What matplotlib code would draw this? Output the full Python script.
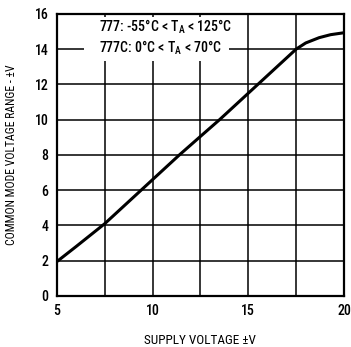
import matplotlib
matplotlib.use("Agg")
import matplotlib.pyplot as plt
from matplotlib.patches import Rectangle

supply_v = [5.0, 6.0, 7.5, 10.0, 11.4, 12.5, 13.5, 15.0, 15.5, 17.5, 18.0, 18.7, 19.3, 20.0]
cm_range = [1.95, 2.8, 4.1, 6.6, 8.0, 9.05, 10.0, 11.5, 12.0, 14.0, 14.35, 14.65, 14.82, 14.93]

x_ticks = [5, 10, 15, 20]
y_ticks = [0, 2, 4, 6, 8, 10, 12, 14, 16]
line1 = "777: -55°C < T$_\\mathregular{A}$ < 125°C"
line2 = "777C: 0°C < T$_\\mathregular{A}$ < 70°C"

plt.rcParams['font.family'] = ['Roboto Condensed', 'DejaVu Sans']
plt.rcParams['font.weight'] = 'medium'
plt.rcParams['mathtext.fontset'] = 'custom'
plt.rcParams['mathtext.rm'] = 'Roboto Condensed:medium'

fig = plt.figure(figsize=(3.51, 3.47), dpi=100)
ax = fig.add_axes([0.162, 0.147, 0.818, 0.813])

ax.set_xlim(5, 20)
ax.set_ylim(0, 16)
ax.set_xticks(x_ticks)
ax.set_xticks([7.5, 12.5, 17.5], minor=True)
ax.set_yticks(y_ticks)
ax.grid(True, which='both', color='black', linewidth=1.1)
ax.tick_params(which='both', length=0, labelsize=10, pad=6)
for s in ax.spines.values():
    s.set_linewidth(1.6)

# white patch behind the legend text hides the grid there
ax.add_patch(Rectangle((6.4, 13.3), 7.6, 2.55, facecolor='white',
                       edgecolor='none', zorder=2))
ax.text(7.2, 15.25, line1, ha='left', va='center', fontsize=10, zorder=3)
ax.text(7.2, 14.05, line2, ha='left', va='center', fontsize=10, zorder=3)

ax.plot(supply_v, cm_range, color='black', linewidth=2.2, zorder=4)

ax.set_xlabel("SUPPLY VOLTAGE ±V", fontsize=9.5, labelpad=11)
ax.set_ylabel("COMMON MODE VOLTAGE RANGE - ±V", fontsize=8.5, labelpad=12)

fig.savefig("out.png", dpi=100)
